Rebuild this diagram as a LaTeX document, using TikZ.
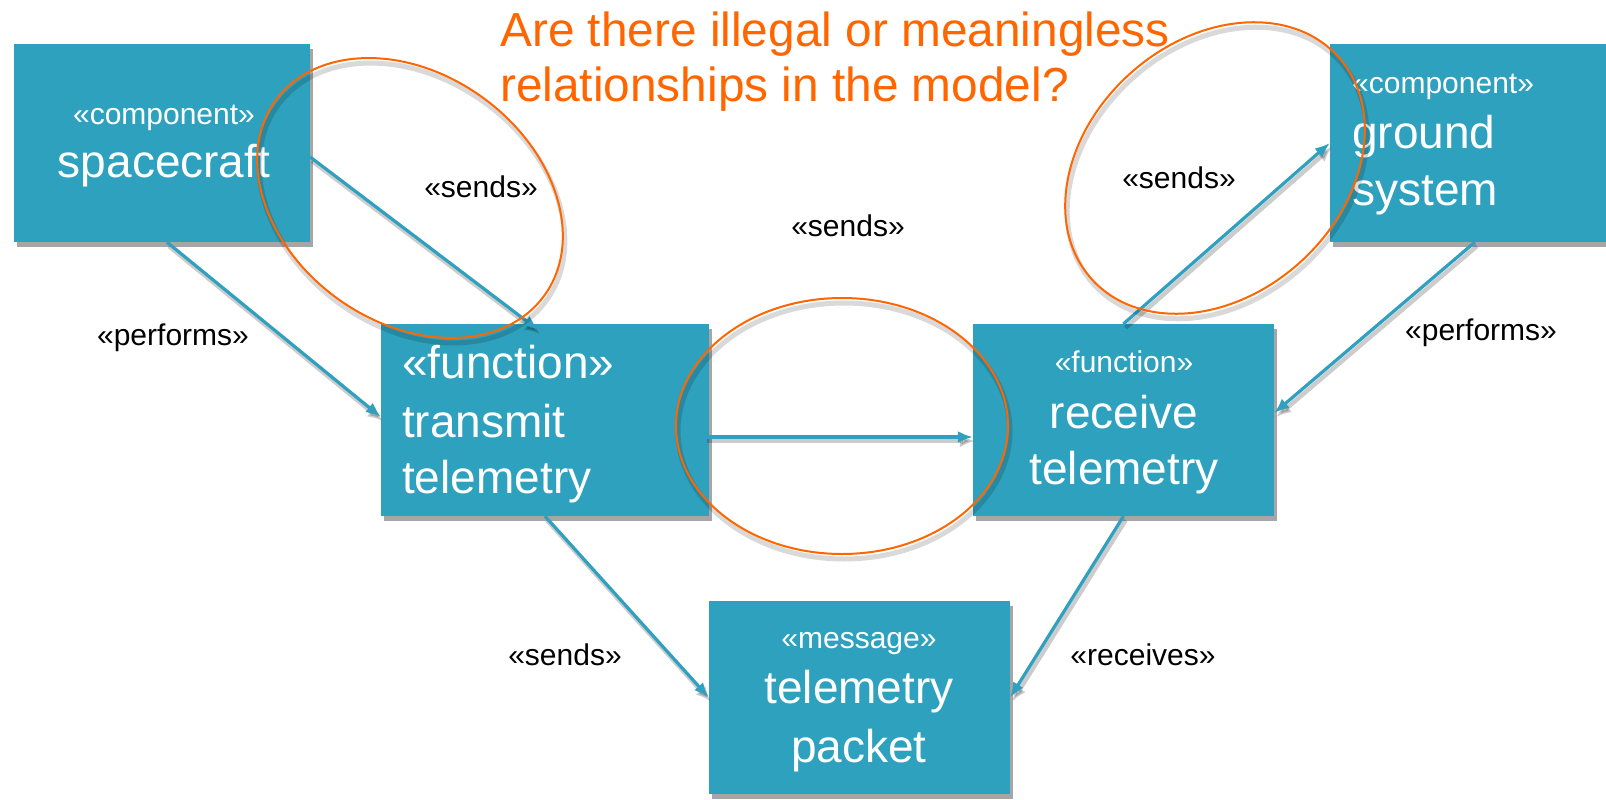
\documentclass[tikz,border=0pt]{standalone}
\usepackage{fontspec}
\setmainfont{Liberation Sans}
\usetikzlibrary{arrows.meta,shadows,calc}
\definecolor{boxteal}{RGB}{45,161,190}
\definecolor{arrteal}{RGB}{48,160,192}
\definecolor{qorange}{RGB}{255,102,0}
\newcommand\FBig{\fontsize{46}{54}\selectfont}
\newcommand\FSmall{\fontsize{30}{36}\selectfont}
\newcommand\FTitle{\fontsize{47.8}{54}\selectfont}
\begin{document}
\begin{tikzpicture}[x=1pt,y=-1pt,
  umlbox/.style={rectangle, fill=boxteal, draw=none, inner sep=0pt,
    drop shadow={shadow xshift=3pt,shadow yshift=-5pt,opacity=0.35,fill=black}},
  boxtext/.style={text=white, inner sep=0pt},
  lbl/.style={font=\FSmall, text=black, inner sep=0pt, anchor=base},
  rel/.style={draw=arrteal, line width=3.2pt, -{Latex[length=15pt,width=12pt]}},
  relshadow/.style={draw=black, opacity=0.2, line width=4.5pt, -{Latex[length=15pt,width=13pt]}},
  ring/.style={draw=qorange, line width=2pt},
  ringshadow/.style={draw=black, opacity=0.15, line width=5pt},
]
\useasboundingbox[fill=white] (0,0) rectangle (1606,800);

% boxes
\node[umlbox, minimum width=296pt, minimum height=198pt] (sc) at (162,143) {};
\node[umlbox, minimum width=300pt, minimum height=198pt] (gs) at (1480,143) {};
\node[umlbox, minimum width=328pt, minimum height=192pt] (tx) at (545,420) {};
\node[umlbox, minimum width=301pt, minimum height=192pt] (rx) at (1123.5,420) {};
\node[umlbox, minimum width=301pt, minimum height=193pt] (pk) at (859.5,697.5) {};

% box texts
\node[boxtext, anchor=base, font=\FSmall] (sc1) at (164,124) {«component»};
\node[boxtext, anchor=base, font=\FBig] (sc2) at (164,177) {spacecraft};
\node[boxtext, anchor=base west, font=\FSmall] (gs1) at (1352,93) {«component»};
\node[boxtext, anchor=base west, font=\FBig] (gs2) at (1352,148) {ground};
\node[boxtext, anchor=base west, font=\FBig] (gs3) at (1352,205) {system};
\node[boxtext, anchor=base west, font=\FBig] (tx1) at (402,378) {«function»};
\node[boxtext, anchor=base west, font=\FBig] (tx2) at (402,437) {transmit};
\node[boxtext, anchor=base west, font=\FBig] (tx3) at (402,493) {telemetry};
\node[boxtext, anchor=base, font=\FSmall] (rx1) at (1124,372) {«function»};
\node[boxtext, anchor=base, font=\FBig] (rx2) at (1124,428) {receive};
\node[boxtext, anchor=base, font=\FBig] (rx3) at (1124,484) {telemetry};
\node[boxtext, anchor=base, font=\FSmall] (pk1) at (859,648) {«message»};
\node[boxtext, anchor=base, font=\FBig] (pk2) at (859,703) {telemetry};
\node[boxtext, anchor=base, font=\FBig] (pk3) at (859,762) {packet};

% arrow shadows
\begin{scope}[transform canvas={shift={(2pt,-4pt)}}]
\draw[relshadow] ([yshift=-14pt]sc.east) -- ([xshift=-7pt,yshift=-6pt]tx.north);
\draw[relshadow] ([xshift=5pt]sc.south) -- ([yshift=3pt]tx.west);
\draw[relshadow] ([xshift=-4pt,yshift=-17pt]tx.east) -- ([yshift=-17pt]rx.west);
\draw[relshadow] (rx.north) -- (gs.west);
\draw[relshadow] ([xshift=145pt]gs.south west) -- ([yshift=7pt]rx.east);
\draw[relshadow] (tx.south) -- (pk.west);
\draw[relshadow] (rx.south) -- (pk.east);
\end{scope}

% arrows
\draw[rel] ([yshift=-14pt]sc.east) -- ([xshift=-7pt,yshift=-6pt]tx.north);
\draw[rel] ([xshift=5pt]sc.south) -- ([yshift=3pt]tx.west);
\draw[rel] ([xshift=-4pt,yshift=-17pt]tx.east) -- ([yshift=-17pt]rx.west);
\draw[rel] (rx.north) -- (gs.west);
\draw[rel] ([xshift=145pt]gs.south west) -- ([yshift=7pt]rx.east);
\draw[rel] (tx.south) -- (pk.west);
\draw[rel] (rx.south) -- (pk.east);

% labels
\node[lbl] (l1) at (481,197) {«sends»};
\node[lbl] (l2) at (848,236) {«sends»};
\node[lbl] (l3) at (173,345) {«performs»};
\node[lbl] (l4) at (1481,340) {«performs»};
\node[lbl] (l5) at (1179,188) {«sends»};
\node[lbl] (l6) at (565,665) {«sends»};
\node[lbl] (l7) at (1143,665) {«receives»};

% ellipse shadows
\begin{scope}[transform canvas={shift={(2pt,-5pt)}}]
\draw[ringshadow, rotate around={-36:(410,198)}] (410,198) ellipse [x radius=166pt, y radius=124pt];
\draw[ringshadow] (842,426) ellipse [x radius=166pt, y radius=128pt];
\draw[ringshadow, rotate around={42:(1215,168)}] (1215,168) ellipse [x radius=166pt, y radius=127pt];
\end{scope}

% ellipses
\draw[ring, rotate around={-36:(410,198)}] (410,198) ellipse [x radius=166pt, y radius=124pt];
\draw[ring] (842,426) ellipse [x radius=166pt, y radius=128pt];
\draw[ring, rotate around={42:(1215,168)}] (1215,168) ellipse [x radius=166pt, y radius=127pt];

% title
\node[anchor=base west, inner sep=0pt, text=qorange, font=\FTitle] (q1) at (500,47) {Are there illegal or meaningless};
\node[anchor=base west, inner sep=0pt, text=qorange, font=\FTitle] (q2) at (500,101) {relationships in the model?};
\end{tikzpicture}
\end{document}
